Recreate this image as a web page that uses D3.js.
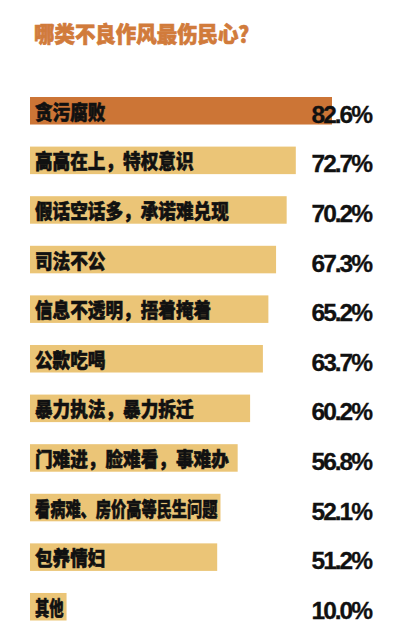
<!DOCTYPE html>
<html>
<head>
<meta charset="utf-8">
<script src="https://cdn.jsdelivr.net/npm/d3@7"></script>
<style>
  html, body { margin: 0; padding: 0; background: #fff; }
  svg { display: block; }
</style>
</head>
<body>
<div class="chart"></div>
<script>
// Data
const title = "哪类不良作风最伤民心？";
const categories = [
    "贪污腐败",
    "高高在上，特权意识",
    "假话空话多，承诺难兑现",
    "司法不公",
    "信息不透明，捂着掩着",
    "公款吃喝",
    "暴力执法，暴力拆迁",
    "门难进，脸难看，事难办",
    "看病难、房价高等民生问题",
    "包养情妇",
    "其他"
];
const values = [82.6, 72.7, 70.2, 67.3, 65.2, 63.7, 60.2, 56.8, 52.1, 51.2, 10.0];

const WIDTH = 400;
const HEIGHT = 636;
const LEFT = 30;
const CJK = "'Noto Sans CJK SC', 'Noto Sans', sans-serif";

const svg = d3.select(".chart")
    .append("svg")
        .attr("width", WIDTH)
        .attr("height", HEIGHT);

// Scales
const x = d3.scaleLinear()
    .domain([0, 82.6])
    .range([0, 302]);
const y = d3.scaleBand()
    .domain(categories)
    .range([97, 620.5])
    .paddingInner(0.445)
    .paddingOuter(0);

// Title (condensed heavy look)
svg.append("text")
    .text(title)
    .attr("transform", "translate(34,42) scale(0.93,1)")
    .attr("fill", "#d17b3b")
    .attr("stroke", "#d17b3b")
    .attr("stroke-width", 0.7)
    .attr("font-family", CJK)
    .attr("font-weight", 900)
    .attr("font-size", 22);

const rows = svg.append("g")
    .selectAll("g")
    .data(categories)
    .join("g")
        .attr("transform", d => `translate(0,${y(d)})`);

// Bars
rows.append("rect")
    .attr("x", LEFT)
    .attr("y", 0)
    .attr("width", (d, i) => x(values[i]))
    .attr("height", y.bandwidth())
    .attr("fill", (d, i) => i === 0 ? "#cc7536" : "#ebc577");

// Category labels, squeezed when they would run past the bar
const SX = 0.86;
rows.append("text")
    .text(d => d)
    .attr("transform", `translate(35,${y.bandwidth() / 2 + 9}) scale(${SX},1)`)
    .attr("fill", "#111")
    .attr("stroke", "#111")
    .attr("stroke-width", 0.6)
    .attr("font-family", CJK)
    .attr("font-weight", 900)
    .attr("font-size", 20.5)
    .each(function(d, i) {
        const room = (x(values[i]) - 8) / SX;
        const len = this.getComputedTextLength();
        if (len > room) {
            d3.select(this)
                .attr("textLength", room)
                .attr("lengthAdjust", "spacingAndGlyphs");
        }
    });

// Value labels
rows.append("text")
    .text((d, i) => values[i].toFixed(1) + "%")
    .attr("x", 371)
    .attr("y", y.bandwidth() / 2 + 12)
    .attr("text-anchor", "end")
    .attr("fill", "#111")
    .attr("stroke", "#111")
    .attr("stroke-width", 0.3)
    .attr("font-family", "'Liberation Sans', Arial, sans-serif")
    .attr("font-weight", "bold")
    .attr("font-size", 24.5)
    .attr("letter-spacing", -2);
</script>
</body>
</html>
